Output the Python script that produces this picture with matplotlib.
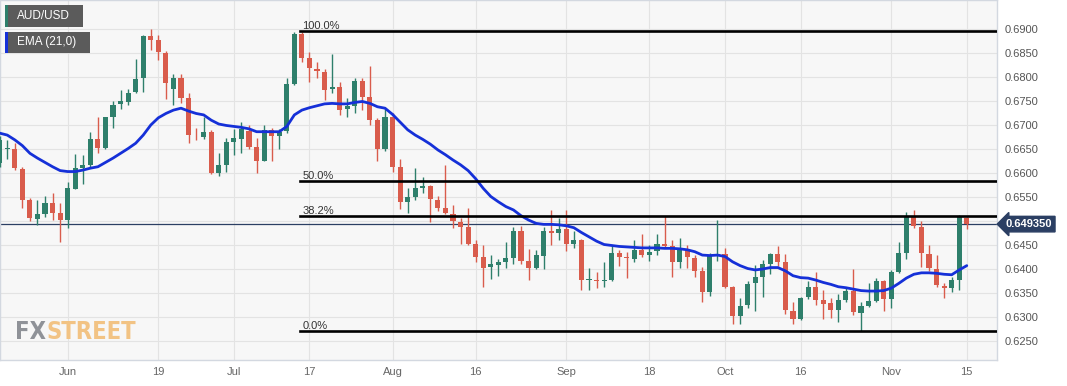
import numpy as np
import pandas as pd
import matplotlib
matplotlib.use("Agg")
import matplotlib.pyplot as plt
import matplotlib.transforms as mtransforms
from matplotlib.patches import Rectangle

# daily AUD/USD candles, 19 May 2023 .. 15 Nov 2023 (business days)
dates = pd.bdate_range("2023-05-19", "2023-11-15")

opens = [0.6620, 0.6651, 0.6651, 0.6608, 0.6544, 0.6504, 0.6514, 0.6537, 0.6516,
         0.6502, 0.6567, 0.6611, 0.6617, 0.6671, 0.6653, 0.6717, 0.6744, 0.6747, 0.6768,
         0.6797, 0.6885, 0.6877, 0.6849, 0.6776, 0.6797, 0.6757, 0.6678, 0.6676, 0.6686,
         0.6601, 0.6617, 0.6665, 0.6670, 0.6688, 0.6655, 0.6625, 0.6690, 0.6677, 0.6688,
         0.6785, 0.6889, 0.6839, 0.6817, 0.6811, 0.6774, 0.6780, 0.6733, 0.6740, 0.6792,
         0.6759, 0.6710, 0.6650, 0.6717, 0.6613, 0.6539, 0.6551, 0.6569, 0.6573, 0.6544,
         0.6528, 0.6515, 0.6497, 0.6487, 0.6453, 0.6424, 0.6405, 0.6409, 0.6414, 0.6422,
         0.6480, 0.6417, 0.6403, 0.6428, 0.6479, 0.6476, 0.6483, 0.6452, 0.6460, 0.6377,
         0.6378, 0.6376, 0.6377, 0.6433, 0.6426, 0.6421, 0.6440, 0.6429, 0.6437, 0.6453,
         0.6447, 0.6415, 0.6440, 0.6422, 0.6396, 0.6353, 0.6429, 0.6431, 0.6362, 0.6303,
         0.6325, 0.6370, 0.6384, 0.6410, 0.6431, 0.6414, 0.6313, 0.6296, 0.6342, 0.6363,
         0.6335, 0.6330, 0.6315, 0.6335, 0.6354, 0.6308, 0.6322, 0.6333, 0.6375, 0.6338,
         0.6393, 0.6433, 0.6511, 0.6488, 0.6431, 0.6401, 0.6365, 0.6360, 0.6377, 0.6507]
highs = [0.6678, 0.6669, 0.6662, 0.6613, 0.6547, 0.6543, 0.6553, 0.6558, 0.6538,
         0.6581, 0.6639, 0.6638, 0.6685, 0.6717, 0.6716, 0.6750, 0.6773, 0.6776, 0.6837,
         0.6888, 0.6900, 0.6888, 0.6855, 0.6806, 0.6806, 0.6767, 0.6694, 0.6717, 0.6690,
         0.6641, 0.6672, 0.6692, 0.6706, 0.6700, 0.6672, 0.6701, 0.6694, 0.6692, 0.6797,
         0.6894, 0.6893, 0.6853, 0.6832, 0.6817, 0.6847, 0.6789, 0.6756, 0.6797, 0.6797,
         0.6822, 0.6714, 0.6733, 0.6724, 0.6630, 0.6568, 0.6610, 0.6592, 0.6576, 0.6553,
         0.6617, 0.6533, 0.6506, 0.6528, 0.6460, 0.6450, 0.6429, 0.6420, 0.6457, 0.6488,
         0.6490, 0.6442, 0.6440, 0.6488, 0.6523, 0.6507, 0.6523, 0.6479, 0.6462, 0.6403,
         0.6394, 0.6414, 0.6450, 0.6440, 0.6436, 0.6460, 0.6472, 0.6450, 0.6472, 0.6511,
         0.6460, 0.6464, 0.6450, 0.6429, 0.6405, 0.6434, 0.6502, 0.6444, 0.6365, 0.6340,
         0.6374, 0.6408, 0.6419, 0.6433, 0.6447, 0.6431, 0.6332, 0.6342, 0.6374, 0.6393,
         0.6356, 0.6339, 0.6347, 0.6363, 0.6399, 0.6331, 0.6370, 0.6382, 0.6377, 0.6398,
         0.6456, 0.6518, 0.6523, 0.6500, 0.6450, 0.6429, 0.6370, 0.6384, 0.6513, 0.6509]
lows = [0.6612, 0.6630, 0.6606, 0.6528, 0.6499, 0.6492, 0.6509, 0.6502, 0.6457,
        0.6485, 0.6567, 0.6578, 0.6613, 0.6641, 0.6651, 0.6693, 0.6733, 0.6742, 0.6766,
        0.6769, 0.6856, 0.6836, 0.6754, 0.6742, 0.6745, 0.6662, 0.6669, 0.6671, 0.6597,
        0.6594, 0.6603, 0.6638, 0.6641, 0.6650, 0.6599, 0.6624, 0.6625, 0.6651, 0.6683,
        0.6783, 0.6832, 0.6790, 0.6797, 0.6752, 0.6766, 0.6721, 0.6716, 0.6726, 0.6731,
        0.6700, 0.6624, 0.6646, 0.6603, 0.6526, 0.6516, 0.6544, 0.6558, 0.6497, 0.6521,
        0.6514, 0.6485, 0.6453, 0.6450, 0.6415, 0.6363, 0.6379, 0.6386, 0.6403, 0.6410,
        0.6410, 0.6378, 0.6400, 0.6401, 0.6449, 0.6460, 0.6437, 0.6444, 0.6356, 0.6356,
        0.6360, 0.6363, 0.6375, 0.6407, 0.6381, 0.6414, 0.6424, 0.6417, 0.6429, 0.6443,
        0.6384, 0.6403, 0.6403, 0.6384, 0.6331, 0.6344, 0.6417, 0.6361, 0.6285, 0.6285,
        0.6318, 0.6312, 0.6342, 0.6389, 0.6407, 0.6306, 0.6285, 0.6294, 0.6337, 0.6325,
        0.6296, 0.6297, 0.6290, 0.6332, 0.6304, 0.6271, 0.6320, 0.6332, 0.6313, 0.6318,
        0.6391, 0.6421, 0.6486, 0.6405, 0.6396, 0.6363, 0.6339, 0.6353, 0.6356, 0.6484]
closes = [0.6669, 0.6653, 0.6610, 0.6544, 0.6506, 0.6514, 0.6537, 0.6516, 0.6502,
          0.6568, 0.6610, 0.6617, 0.6671, 0.6653, 0.6716, 0.6742, 0.6750, 0.6766, 0.6796,
          0.6885, 0.6877, 0.6853, 0.6787, 0.6797, 0.6757, 0.6679, 0.6677, 0.6686, 0.6601,
          0.6617, 0.6665, 0.6672, 0.6692, 0.6655, 0.6625, 0.6690, 0.6677, 0.6686, 0.6785,
          0.6889, 0.6840, 0.6818, 0.6813, 0.6773, 0.6780, 0.6731, 0.6740, 0.6792, 0.6759,
          0.6710, 0.6650, 0.6717, 0.6613, 0.6539, 0.6551, 0.6568, 0.6573, 0.6546, 0.6528,
          0.6516, 0.6499, 0.6487, 0.6453, 0.6424, 0.6403, 0.6410, 0.6414, 0.6422, 0.6480,
          0.6417, 0.6403, 0.6429, 0.6480, 0.6474, 0.6483, 0.6452, 0.6460, 0.6377, 0.6379,
          0.6375, 0.6378, 0.6433, 0.6424, 0.6422, 0.6440, 0.6429, 0.6436, 0.6453, 0.6447,
          0.6415, 0.6440, 0.6424, 0.6396, 0.6353, 0.6429, 0.6431, 0.6363, 0.6303, 0.6323,
          0.6368, 0.6383, 0.6410, 0.6431, 0.6414, 0.6315, 0.6296, 0.6340, 0.6363, 0.6335,
          0.6328, 0.6315, 0.6335, 0.6354, 0.6310, 0.6322, 0.6333, 0.6374, 0.6338, 0.6393,
          0.6433, 0.6511, 0.6490, 0.6433, 0.6403, 0.6367, 0.6360, 0.6377, 0.6509, 0.6493]
ema21 = [0.6683, 0.6679, 0.6669, 0.6657, 0.6641, 0.6631, 0.6622, 0.6613, 0.6605,
         0.6603, 0.6603, 0.6606, 0.6610, 0.6613, 0.6622, 0.6631, 0.6641, 0.6651, 0.6662,
         0.6679, 0.6700, 0.6715, 0.6724, 0.6731, 0.6735, 0.6729, 0.6724, 0.6721, 0.6710,
         0.6702, 0.6699, 0.6697, 0.6695, 0.6692, 0.6686, 0.6686, 0.6686, 0.6686, 0.6697,
         0.6721, 0.6731, 0.6736, 0.6740, 0.6744, 0.6745, 0.6744, 0.6744, 0.6747, 0.6749,
         0.6745, 0.6738, 0.6735, 0.6722, 0.6706, 0.6690, 0.6679, 0.6670, 0.6660, 0.6648,
         0.6638, 0.6627, 0.6617, 0.6605, 0.6588, 0.6568, 0.6551, 0.6540, 0.6530, 0.6523,
         0.6511, 0.6502, 0.6495, 0.6493, 0.6493, 0.6492, 0.6490, 0.6486, 0.6476, 0.6467,
         0.6458, 0.6451, 0.6449, 0.6447, 0.6446, 0.6445, 0.6444, 0.6444, 0.6444, 0.6443,
         0.6443, 0.6442, 0.6440, 0.6436, 0.6429, 0.6428, 0.6429, 0.6426, 0.6415, 0.6407,
         0.6401, 0.6398, 0.6400, 0.6403, 0.6403, 0.6396, 0.6386, 0.6382, 0.6381, 0.6377,
         0.6372, 0.6368, 0.6363, 0.6361, 0.6358, 0.6355, 0.6354, 0.6354, 0.6355, 0.6360,
         0.6370, 0.6381, 0.6389, 0.6392, 0.6392, 0.6391, 0.6389, 0.6388, 0.6398, 0.6407]

fib_low = 0.6271
fib_high = 0.6895
fib_ratios = [0.0, 0.382, 0.5, 1.0]
last_price = 0.64935

tick_days = ["2023-06-01", "2023-06-19", "2023-07-03", "2023-07-17", "2023-08-01", "2023-08-16",
             "2023-09-01", "2023-09-18", "2023-10-02", "2023-10-16", "2023-11-01", "2023-11-15"]
tick_names = ["Jun", "19", "Jul", "17", "Aug", "16", "Sep", "18", "Oct", "16", "Nov", "15"]

W, H = 1067, 386
GREEN = "#2e7f6b"
RED = "#d95c4c"
NAVY = "#2b3f63"

fig = plt.figure(figsize=(W / 100, H / 100), dpi=100)
ax = fig.add_axes([0, 1 - 360 / H, 997 / W, 360 / H])
ax.set_facecolor("#f7f7f7")

pos = np.arange(len(dates)) - 9          # 0 == 1 June
o = np.array(opens); h = np.array(highs); l = np.array(lows); c = np.array(closes)
up = c >= o
cols = np.where(up, GREEN, RED)

ax.vlines(pos, l, h, colors=cols, lw=1.0, zorder=3)
body = np.maximum(np.abs(c - o), 0.00008)
ax.bar(pos, body, bottom=np.minimum(o, c), width=0.68, color=cols, zorder=4, linewidth=0)

ax.plot(pos, ema21, color="#1530d8", lw=2.0, zorder=5, solid_capstyle="round")

# fibonacci retracement levels
fib_start = 30.8
for r in fib_ratios:
    lvl = fib_low + r * (fib_high - fib_low)
    ax.plot([fib_start, 200], [lvl, lvl], color="black", lw=1.9, zorder=6)
    ax.annotate("%.1f%%" % (r * 100), (fib_start, lvl), xytext=(1.5, 1.5),
                textcoords="offset points", fontsize=8, color="#333333",
                family="Liberation Sans", zorder=7)

ax.axhline(last_price, color=NAVY, lw=0.9, zorder=2)

ax.set_xlim(-8.96, 123.0)
ax.set_ylim(0.62104, 0.69604)


def ylab(v, p):
    # the price tag sits on top of the 0.6500 level
    return "" if abs(v - 0.65) < 1e-6 else "%.4f" % v


ax.set_yticks(np.arange(0.625, 0.6901, 0.005))
ax.yaxis.set_major_formatter(matplotlib.ticker.FuncFormatter(ylab))
ax.yaxis.tick_right()
ax.tick_params(axis="y", length=0, pad=5.5, labelsize=8, labelcolor="#555555")
for t in ax.get_yticklabels():
    t.set_family("Liberation Sans")

tick_pos = [pos[dates.get_loc(pd.Timestamp(d))] for d in tick_days]
ax.set_xticks(tick_pos)
ax.set_xticklabels(tick_names)
ax.tick_params(axis="x", length=0, pad=5, labelsize=8, labelcolor="#666666")
for t in ax.get_xticklabels():
    t.set_family("Liberation Sans")
    t.set_fontstretch("condensed")

ax.grid(True, color="#e3e3e3", lw=0.8, zorder=0)
ax.set_axisbelow(True)
for s in ax.spines.values():
    s.set_color("#d3d8e0")
    s.set_linewidth(1.0)

# current price tag
tr = mtransforms.blended_transform_factory(fig.transFigure, ax.transData)
fig.text(1029 / W, last_price, "%.6f" % last_price, transform=tr, ha="center", va="center",
         fontsize=8, fontweight="bold", color="white", family="Liberation Sans",
         bbox=dict(boxstyle="larrow,pad=0.25", fc=NAVY, ec=NAVY))


def fx(x, y):
    return (x / W, 1 - y / H)


# legend boxes
for (x0, y0, x1, y1, stripe, label) in [(5, 5, 83, 27, GREEN, "AUD/USD"),
                                         (5, 32, 90, 53, "#1530d8", "EMA (21,0)")]:
    fig.patches.append(Rectangle(fx(x0, y1), (x1 - x0) / W, (y1 - y0) / H,
                                 transform=fig.transFigure, fc="#5b5b5b", ec="none", zorder=10))
    fig.patches.append(Rectangle(fx(x0, y1), 2.5 / W, (y1 - y0) / H,
                                 transform=fig.transFigure, fc=stripe, ec="none", zorder=11))
    fig.text(*fx(x0 + 12, (y0 + y1) / 2), label, ha="left", va="center", fontsize=8.5,
             color="white", family="Liberation Sans", zorder=12)

# logo
t_fx = fig.text(*fx(15, 339), "FX", ha="left", va="baseline", fontsize=17, fontweight="bold",
                color="#8f9298", family="DejaVu Sans", fontstretch="condensed")
ax.annotate("STREET", xy=(1, 0), xycoords=t_fx, va="bottom", ha="left", fontsize=17,
            fontweight="bold", color="#f2c384", family="DejaVu Sans", fontstretch="condensed",
            annotation_clip=False)

fig.savefig("out.png", dpi=100)
